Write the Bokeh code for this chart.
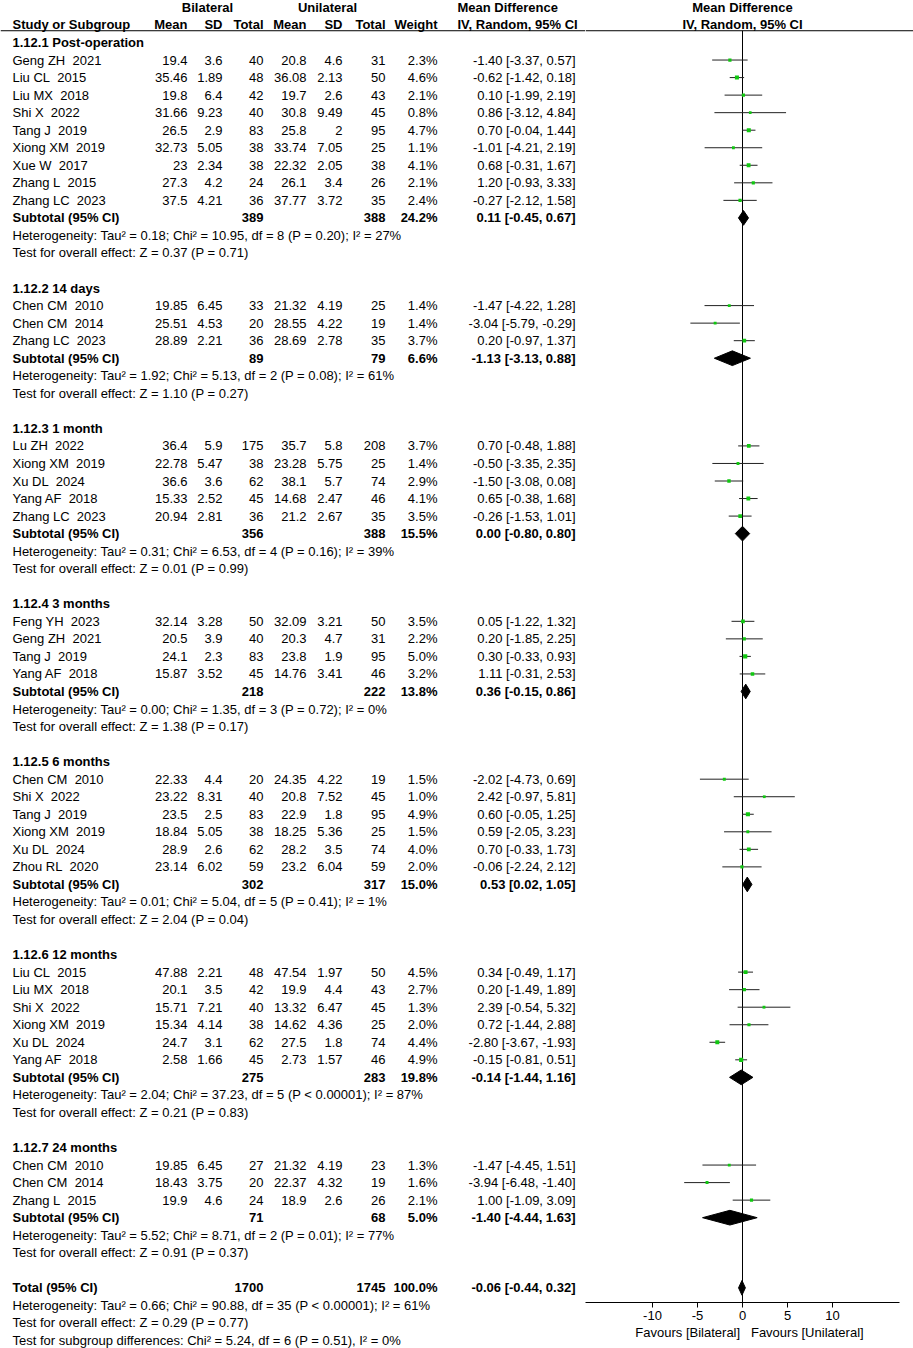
from bokeh.plotting import figure
from bokeh.layouts import row
from bokeh.models import ColumnDataSource, Range1d, FixedTicker, Span
from bokeh.core.properties import value, field
from bokeh.embed import file_html
from bokeh.resources import INLINE

# ---------------- data ----------------
groups = ["1.12.1 Post-operation", "1.12.2 14 days", "1.12.3 1 month", "1.12.4 3 months",
          "1.12.5 6 months", "1.12.6 12 months", "1.12.7 24 months"]
group_sizes = [9, 3, 5, 4, 6, 6, 3]

author = ["Geng ZH", "Liu CL", "Liu MX", "Shi X", "Tang J", "Xiong XM", "Xue W", "Zhang L", "Zhang LC",
          "Chen CM", "Chen CM", "Zhang LC",
          "Lu ZH", "Xiong XM", "Xu DL", "Yang AF", "Zhang LC",
          "Feng YH", "Geng ZH", "Tang J", "Yang AF",
          "Chen CM", "Shi X", "Tang J", "Xiong XM", "Xu DL", "Zhou RL",
          "Liu CL", "Liu MX", "Shi X", "Xiong XM", "Xu DL", "Yang AF",
          "Chen CM", "Chen CM", "Zhang L"]
year = [2021, 2015, 2018, 2022, 2019, 2019, 2017, 2015, 2023,
        2010, 2014, 2023,
        2022, 2019, 2024, 2018, 2023,
        2023, 2021, 2019, 2018,
        2010, 2022, 2019, 2019, 2024, 2020,
        2015, 2018, 2022, 2019, 2024, 2018,
        2010, 2014, 2015]
bil_mean = [19.4, 35.46, 19.8, 31.66, 26.5, 32.73, 23, 27.3, 37.5,
            19.85, 25.51, 28.89,
            36.4, 22.78, 36.6, 15.33, 20.94,
            32.14, 20.5, 24.1, 15.87,
            22.33, 23.22, 23.5, 18.84, 28.9, 23.14,
            47.88, 20.1, 15.71, 15.34, 24.7, 2.58,
            19.85, 18.43, 19.9]
bil_sd = [3.6, 1.89, 6.4, 9.23, 2.9, 5.05, 2.34, 4.2, 4.21,
          6.45, 4.53, 2.21,
          5.9, 5.47, 3.6, 2.52, 2.81,
          3.28, 3.9, 2.3, 3.52,
          4.4, 8.31, 2.5, 5.05, 2.6, 6.02,
          2.21, 3.5, 7.21, 4.14, 3.1, 1.66,
          6.45, 3.75, 4.6]
bil_n = [40, 48, 42, 40, 83, 38, 38, 24, 36,
         33, 20, 36,
         175, 38, 62, 45, 36,
         50, 40, 83, 45,
         20, 40, 83, 38, 62, 59,
         48, 42, 40, 38, 62, 45,
         27, 20, 24]
uni_mean = [20.8, 36.08, 19.7, 30.8, 25.8, 33.74, 22.32, 26.1, 37.77,
            21.32, 28.55, 28.69,
            35.7, 23.28, 38.1, 14.68, 21.2,
            32.09, 20.3, 23.8, 14.76,
            24.35, 20.8, 22.9, 18.25, 28.2, 23.2,
            47.54, 19.9, 13.32, 14.62, 27.5, 2.73,
            21.32, 22.37, 18.9]
uni_sd = [4.6, 2.13, 2.6, 9.49, 2, 7.05, 2.05, 3.4, 3.72,
          4.19, 4.22, 2.78,
          5.8, 5.75, 5.7, 2.47, 2.67,
          3.21, 4.7, 1.9, 3.41,
          4.22, 7.52, 1.8, 5.36, 3.5, 6.04,
          1.97, 4.4, 6.47, 4.36, 1.8, 1.57,
          4.19, 4.32, 2.6]
uni_n = [31, 50, 43, 45, 95, 25, 38, 26, 35,
         25, 19, 35,
         208, 25, 74, 46, 35,
         50, 31, 95, 46,
         19, 45, 95, 25, 74, 59,
         50, 43, 45, 25, 74, 46,
         23, 19, 26]
weight = [2.3, 4.6, 2.1, 0.8, 4.7, 1.1, 4.1, 2.1, 2.4,
          1.4, 1.4, 3.7,
          3.7, 1.4, 2.9, 4.1, 3.5,
          3.5, 2.2, 5.0, 3.2,
          1.5, 1.0, 4.9, 1.5, 4.0, 2.0,
          4.5, 2.7, 1.3, 2.0, 4.4, 4.9,
          1.3, 1.6, 2.1]
md = [-1.40, -0.62, 0.10, 0.86, 0.70, -1.01, 0.68, 1.20, -0.27,
      -1.47, -3.04, 0.20,
      0.70, -0.50, -1.50, 0.65, -0.26,
      0.05, 0.20, 0.30, 1.11,
      -2.02, 2.42, 0.60, 0.59, 0.70, -0.06,
      0.34, 0.20, 2.39, 0.72, -2.80, -0.15,
      -1.47, -3.94, 1.00]
md_lo = [-3.37, -1.42, -1.99, -3.12, -0.04, -4.21, -0.31, -0.93, -2.12,
         -4.22, -5.79, -0.97,
         -0.48, -3.35, -3.08, -0.38, -1.53,
         -1.22, -1.85, -0.33, -0.31,
         -4.73, -0.97, -0.05, -2.05, -0.33, -2.24,
         -0.49, -1.49, -0.54, -1.44, -3.67, -0.81,
         -4.45, -6.48, -1.09]
md_hi = [0.57, 0.18, 2.19, 4.84, 1.44, 2.19, 1.67, 3.33, 1.58,
         1.28, -0.29, 1.37,
         1.88, 2.35, 0.08, 1.68, 1.01,
         1.32, 2.25, 0.93, 2.53,
         0.69, 5.81, 1.25, 3.23, 1.73, 2.12,
         1.17, 1.89, 5.32, 2.88, -1.93, 0.51,
         1.51, -1.40, 3.09]

sub_bil_n = [389, 89, 356, 218, 302, 275, 71]
sub_uni_n = [388, 79, 388, 222, 317, 283, 68]
sub_weight = [24.2, 6.6, 15.5, 13.8, 15.0, 19.8, 5.0]
sub_md = [0.11, -1.13, 0.00, 0.36, 0.53, -0.14, -1.40]
sub_lo = [-0.45, -3.13, -0.80, -0.15, 0.02, -1.44, -4.44]
sub_hi = [0.67, 0.88, 0.80, 0.86, 1.05, 1.16, 1.63]
sub_het = ["Heterogeneity: Tau\u00b2 = 0.18; Chi\u00b2 = 10.95, df = 8 (P = 0.20); I\u00b2 = 27%",
           "Heterogeneity: Tau\u00b2 = 1.92; Chi\u00b2 = 5.13, df = 2 (P = 0.08); I\u00b2 = 61%",
           "Heterogeneity: Tau\u00b2 = 0.31; Chi\u00b2 = 6.53, df = 4 (P = 0.16); I\u00b2 = 39%",
           "Heterogeneity: Tau\u00b2 = 0.00; Chi\u00b2 = 1.35, df = 3 (P = 0.72); I\u00b2 = 0%",
           "Heterogeneity: Tau\u00b2 = 0.01; Chi\u00b2 = 5.04, df = 5 (P = 0.41); I\u00b2 = 1%",
           "Heterogeneity: Tau\u00b2 = 2.04; Chi\u00b2 = 37.23, df = 5 (P < 0.00001); I\u00b2 = 87%",
           "Heterogeneity: Tau\u00b2 = 5.52; Chi\u00b2 = 8.71, df = 2 (P = 0.01); I\u00b2 = 77%"]
sub_test = ["Test for overall effect: Z = 0.37 (P = 0.71)",
            "Test for overall effect: Z = 1.10 (P = 0.27)",
            "Test for overall effect: Z = 0.01 (P = 0.99)",
            "Test for overall effect: Z = 1.38 (P = 0.17)",
            "Test for overall effect: Z = 2.04 (P = 0.04)",
            "Test for overall effect: Z = 0.21 (P = 0.83)",
            "Test for overall effect: Z = 0.91 (P = 0.37)"]

total_bil_n, total_uni_n, total_weight = 1700, 1745, 100.0
total_md, total_lo, total_hi = -0.06, -0.44, 0.32
total_notes = ["Heterogeneity: Tau\u00b2 = 0.66; Chi\u00b2 = 90.88, df = 35 (P < 0.00001); I\u00b2 = 61%",
               "Test for overall effect: Z = 0.29 (P = 0.77)",
               "Test for subgroup differences: Chi\u00b2 = 5.24, df = 6 (P = 0.51), I\u00b2 = 0%"]
axis_ticks = [-10, -5, 0, 5, 10]
favours_label = "Favours [Bilateral]\u00a0\u00a0\u00a0Favours [Unilateral]"

# ---------------- layout constants ----------------
H = 1348
LEFT_W, RIGHT_W = 585, 328
FRAME_H = 1302           # frame height (axis sits at the frame bottom)
AXIS_BORDER = H - FRAME_H
ROW0, ROWH = 6.92, 17.54
PX_PER_UNIT = 9.0
ZERO_PX = 157            # zero line offset inside right figure
FONT = "Liberation Sans"
X_STUDY, X_BM, X_BSD, X_BN, X_UM, X_USD, X_UN, X_W, X_CI = 12, 187, 222, 263, 306, 342, 385, 437, 575
X_MDHEAD = 457
HEAD_LINE = 1.33
DIAM_H = 0.42

def fmt_ci(m, lo, hi):
    return f"{m:.2f} [{lo:.2f}, {hi:.2f}]"

# ---------------- build table rows ----------------
recs = {"x": [], "y": [], "text": [], "align": [], "style": []}
def add(x, y, t, align="right", style="normal"):
    recs["x"].append(x); recs["y"].append(y); recs["text"].append(t)
    recs["align"].append(align); recs["style"].append(style)

add(207, 0, "Bilateral", "center", "bold")
add(327, 0, "Unilateral", "center", "bold")
add(X_MDHEAD, 0, "Mean Difference", "left", "bold")
add(X_STUDY, 1, "Study or Subgroup", "left", "bold")
for xx, t in [(X_BM, "Mean"), (X_BSD, "SD"), (X_BN, "Total"), (X_UM, "Mean"),
              (X_USD, "SD"), (X_UN, "Total"), (X_W, "Weight")]:
    add(xx, 1, t, "right", "bold")
add(X_MDHEAD, 1, "IV, Random, 95% CI", "left", "bold")

study_rows = []
sub_rows = []
r = 2
i = 0
for g, gname in enumerate(groups):
    add(X_STUDY, r, gname, "left", "bold")
    r += 1
    for _ in range(group_sizes[g]):
        add(X_STUDY, r, f"{author[i]}\u00a0 {year[i]}", "left")
        add(X_BM, r, f"{bil_mean[i]:g}")
        add(X_BSD, r, f"{bil_sd[i]:g}")
        add(X_BN, r, f"{bil_n[i]}")
        add(X_UM, r, f"{uni_mean[i]:g}")
        add(X_USD, r, f"{uni_sd[i]:g}")
        add(X_UN, r, f"{uni_n[i]}")
        add(X_W, r, f"{weight[i]:.1f}%")
        add(X_CI, r, fmt_ci(md[i], md_lo[i], md_hi[i]))
        study_rows.append(r)
        i += 1
        r += 1
    add(X_STUDY, r, "Subtotal (95% CI)", "left", "bold")
    add(X_BN, r, f"{sub_bil_n[g]}", "right", "bold")
    add(X_UN, r, f"{sub_uni_n[g]}", "right", "bold")
    add(X_W, r, f"{sub_weight[g]:.1f}%", "right", "bold")
    add(X_CI, r, fmt_ci(sub_md[g], sub_lo[g], sub_hi[g]), "right", "bold")
    sub_rows.append(r)
    add(X_STUDY, r + 1, sub_het[g], "left")
    add(X_STUDY, r + 2, sub_test[g], "left")
    r += 4

total_row = r
add(X_STUDY, r, "Total (95% CI)", "left", "bold")
add(X_BN, r, f"{total_bil_n}", "right", "bold")
add(X_UN, r, f"{total_uni_n}", "right", "bold")
add(X_W, r, f"{total_weight:.1f}%", "right", "bold")
add(X_CI, r, fmt_ci(total_md, total_lo, total_hi), "right", "bold")
for k, t in enumerate(total_notes):
    add(X_STUDY, r + 1 + k, t, "left")

y_top = -ROW0 / ROWH
y_bot = (FRAME_H - ROW0) / ROWH

# ---------------- left figure (table) ----------------
left = figure(width=LEFT_W, height=H, output_backend="svg", toolbar_location=None,
              x_range=Range1d(0, LEFT_W), y_range=Range1d(y_bot, y_top),
              x_axis_location=None, y_axis_location=None,
              min_border_left=0, min_border_right=0, min_border_top=0,
              min_border_bottom=AXIS_BORDER)
left.xgrid.grid_line_color = None
left.ygrid.grid_line_color = None
left.outline_line_color = None
left.add_layout(Span(location=HEAD_LINE, dimension="width", line_color="black", line_width=1))
left.text(x="x", y="y", text="text", source=ColumnDataSource(recs),
          text_align=field("align"), text_font_style=field("style"), text_baseline="middle",
          text_font=value(FONT), text_font_size=value("13px"), text_color="black",
          level="overlay")

# ---------------- right figure (forest) ----------------
right = figure(width=RIGHT_W, height=H, output_backend="svg", toolbar_location=None,
               x_range=Range1d(-ZERO_PX / PX_PER_UNIT, (RIGHT_W - ZERO_PX) / PX_PER_UNIT),
               y_range=Range1d(y_bot, y_top),
               y_axis_location=None, min_border_left=0, min_border_right=0,
               min_border_top=0, min_border_bottom=AXIS_BORDER)
right.xgrid.grid_line_color = None
right.ygrid.grid_line_color = None
right.outline_line_color = None
right.add_layout(Span(location=HEAD_LINE, dimension="width", line_color="black", line_width=1))

right.segment(x0=[0], y0=[HEAD_LINE], x1=[0], y1=[y_bot], line_color="black", line_width=1)

right.text(x=[0, 0], y=[0, 1], text=["Mean Difference", "IV, Random, 95% CI"],
           text_align="center", text_baseline="middle", text_font=value(FONT),
           text_font_size=value("13px"), text_font_style="bold", text_color="black")

sq_size = [2.4 + 0.35 * w for w in weight]
study_src = ColumnDataSource(dict(y=study_rows, md=md, lo=md_lo, hi=md_hi, size=sq_size))
right.segment(x0="lo", y0="y", x1="hi", y1="y", source=study_src, line_color="#222222", line_width=1)
right.scatter(x="md", y="y", size="size", marker="square", source=study_src,
              fill_color="#10c810", line_color=None)

dxs, dys = [], []
for g in range(len(groups)):
    yy = sub_rows[g]
    dxs.append([sub_lo[g], sub_md[g], sub_hi[g], sub_md[g]])
    dys.append([yy, yy - DIAM_H, yy, yy + DIAM_H])
dxs.append([total_lo, total_md, total_hi, total_md])
dys.append([total_row, total_row - DIAM_H, total_row, total_row + DIAM_H])
right.patches(xs=dxs, ys=dys, fill_color="black", line_color="black", line_width=1)

ax = right.xaxis[0]
ax.ticker = FixedTicker(ticks=axis_ticks)
ax.major_label_overrides = {t: str(t) for t in axis_ticks}
ax.bounds = (-17.4, 17.4)
ax.axis_line_color = "black"
ax.major_tick_line_color = "black"
ax.major_tick_out = 5
ax.major_tick_in = 0
ax.minor_tick_line_color = None
ax.major_label_standoff = 3
ax.major_label_text_font = FONT
ax.major_label_text_font_size = "13px"
ax.major_label_text_color = "black"
ax.axis_label = favours_label
ax.axis_label_text_font = FONT
ax.axis_label_text_font_size = "13px"
ax.axis_label_text_font_style = "normal"
ax.axis_label_text_color = "black"
ax.axis_label_standoff = 2

layout = row(left, right, spacing=0)
open("out.html", "w").write(file_html(layout, INLINE))
